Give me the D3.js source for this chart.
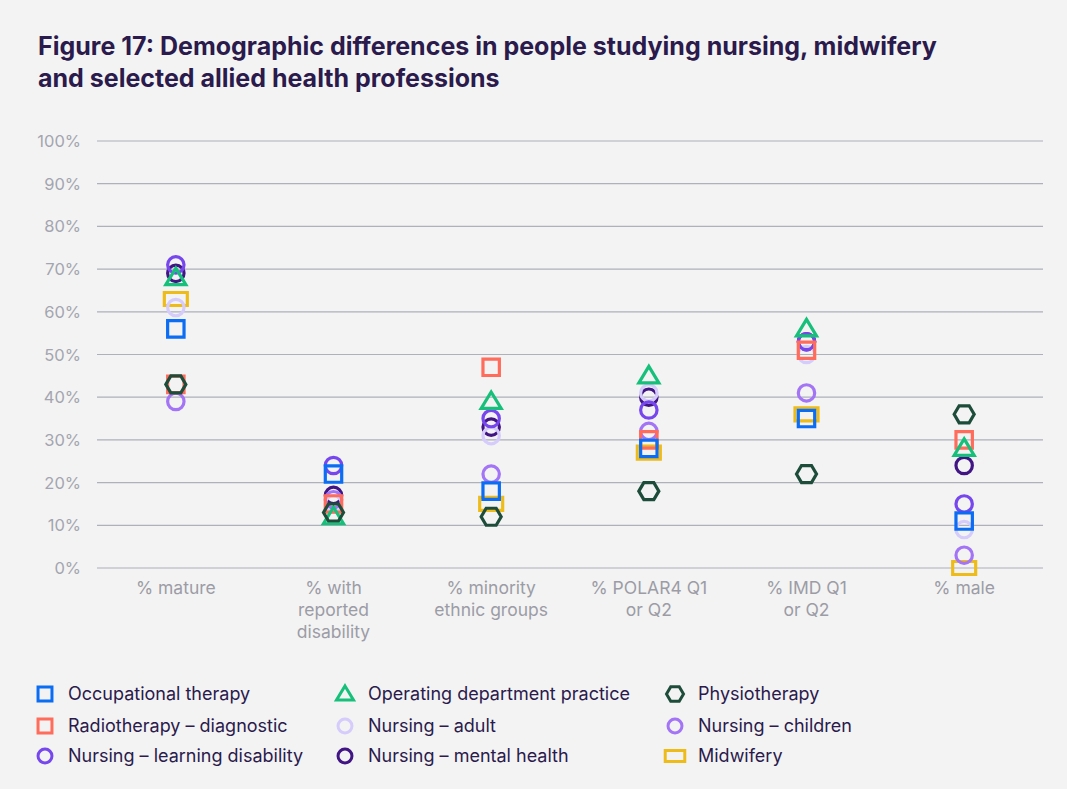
<!DOCTYPE html>
<html>
<head>
<meta charset="utf-8">
<script src="https://cdn.jsdelivr.net/npm/d3@7"></script>
<style>
  body { margin: 0; background: #f3f3f3; }
  svg { display: block; font-family: "Inter", "Noto Sans", sans-serif; }
</style>
</head>
<body>
<svg id="chart" width="1067" height="789"></svg>
<script>
// Chart data
const categories = ["mature", "disability", "minority", "polar4", "imd", "male"];
const categoryLabels = [
  ["% mature"],
  ["% with", "reported", "disability"],
  ["% minority", "ethnic groups"],
  ["% POLAR4 Q1", "or Q2"],
  ["% IMD Q1", "or Q2"],
  ["% male"]
];
const yTicks = [0, 10, 20, 30, 40, 50, 60, 70, 80, 90, 100];

const occupational = [56, 22, 18, 28, 35, 11];
const operating = [68, 12, 39, 45, 56, 28];
const physio = [43, 13, 12, 18, 22, 36];
const radiotherapy = [43, 15, 47, 30, 51, 30];
const nursingAdult = [61, 15, 31, 41, 50, 9];
const nursingChildren = [39, 16, 22, 32, 41, 3];
const nursingLD = [71, 24, 35, 37, 53, 15];
const nursingMH = [69, 17, 33, 40, 53, 24];
const midwifery = [63, null, 15, 27, 36, 0];

// Series (legend order), with shape + colour
const series = [
  { name: "Occupational therapy", values: occupational, shape: "square", color: "#0b6cf4" },
  { name: "Operating department practice", values: operating, shape: "triangle", color: "#16c07a" },
  { name: "Physiotherapy", values: physio, shape: "hexagon", color: "#1d4d3a" },
  { name: "Radiotherapy – diagnostic", values: radiotherapy, shape: "square", color: "#ff6c5c" },
  { name: "Nursing – adult", values: nursingAdult, shape: "circle", color: "#d6ccfb" },
  { name: "Nursing – children", values: nursingChildren, shape: "circle", color: "#a374f5" },
  { name: "Nursing – learning disability", values: nursingLD, shape: "circle", color: "#7747ee" },
  { name: "Nursing – mental health", values: nursingMH, shape: "circle", color: "#421584" },
  { name: "Midwifery", values: midwifery, shape: "rect", color: "#eebc1a" }
];
// which series sit on top of which (bottom first)
const drawOrder = ["Midwifery", "Nursing – mental health", "Nursing – adult", "Nursing – learning disability",
  "Nursing – children", "Radiotherapy – diagnostic", "Occupational therapy", "Operating department practice", "Physiotherapy"];

const svg = d3.select("#chart");
const titleColor = "#2b1a4c";

// Title
svg.append("text")
  .attr("x", 38).attr("y", 55)
  .attr("font-size", 25).attr("font-weight", 700).attr("fill", titleColor)
  .text("Figure 17: Demographic differences in people studying nursing, midwifery");
svg.append("text")
  .attr("x", 38).attr("y", 87)
  .attr("font-size", 25).attr("font-weight", 700).attr("fill", titleColor)
  .text("and selected allied health professions");

// Scales
const x = d3.scaleBand().domain(categories).range([97, 1043]);
const y = d3.scaleLinear().domain([0, 100]).range([568, 141]);

// Gridlines + y labels
const grid = svg.append("g");
grid.selectAll("line")
  .data(yTicks)
  .enter()
  .append("line")
  .attr("x1", 97).attr("x2", 1043)
  .attr("y1", d => y(d)).attr("y2", d => y(d))
  .attr("stroke", "#aeb0bc").attr("stroke-width", 1.2);

grid.selectAll("text")
  .data(yTicks)
  .enter()
  .append("text")
  .attr("x", 81)
  .attr("y", d => y(d) + 6)
  .attr("text-anchor", "end")
  .attr("font-size", 16.5)
  .attr("fill", "#a4a5b0")
  .text(d => d + "%");

// X labels
const xLab = svg.append("g");
categories.forEach((c, i) => {
  const t = xLab.append("text")
    .attr("x", x(c) + x.bandwidth() / 2)
    .attr("y", 594)
    .attr("text-anchor", "middle")
    .attr("font-size", 17.5)
    .attr("fill", "#9c9ca6");
  categoryLabels[i].forEach((line, j) => {
    t.append("tspan")
      .attr("x", x(c) + x.bandwidth() / 2)
      .attr("dy", j === 0 ? 0 : 22)
      .text(line);
  });
});

// Marker shape paths centred on 0,0
function shapePath(shape, s) {
  if (shape === "square") {
    const h = 8.2 * s;
    return `M${-h},${-h}H${h}V${h}H${-h}Z`;
  }
  if (shape === "rect") {
    const w = 11.5 * s, h = 6.5 * s;
    return `M${-w},${-h}H${w}V${h}H${-w}Z`;
  }
  if (shape === "triangle") {
    const w = 10 * s;
    return `M0,${-9.5 * s}L${w},${7 * s}L${-w},${7 * s}Z`;
  }
  if (shape === "hexagon") {
    const w = 10 * s, h = 8.5 * s;
    return `M${-w},0L${-w / 2},${-h}L${w / 2},${-h}L${w},0L${w / 2},${h}L${-w / 2},${h}Z`;
  }
  const r = 8.2 * s;
  return `M${r},0A${r},${r} 0 1,1 ${-r},0A${r},${r} 0 1,1 ${r},0Z`;
}

// Points
const points = svg.append("g");
drawOrder.forEach(name => {
  const sr = series.find(d => d.name === name);
  const pts = sr.values.map((v, i) => ({ cat: categories[i], v })).filter(d => d.v !== null);
  points.append("g")
    .selectAll("path")
    .data(pts)
    .enter()
    .append("path")
    .attr("transform", d => `translate(${x(d.cat) + x.bandwidth() / 2}, ${y(d.v)})`)
    .attr("d", shapePath(sr.shape, 1))
    .attr("fill", "none")
    .attr("stroke", sr.color)
    .attr("stroke-width", 3.2)
    .attr("stroke-linejoin", "miter");
});

// Legend
const legendCols = [45, 345, 675];
const legendRows = [694, 726, 756];
const legend = svg.append("g");
series.forEach((sr, i) => {
  const lx = legendCols[i % 3], ly = legendRows[Math.floor(i / 3)];
  legend.append("path")
    .attr("transform", `translate(${lx}, ${ly})`)
    .attr("d", shapePath(sr.shape, 0.85))
    .attr("fill", "none")
    .attr("stroke", sr.color)
    .attr("stroke-width", 3);
  legend.append("text")
    .attr("x", lx + 23)
    .attr("y", ly + 6)
    .attr("font-size", 18)
    .attr("fill", titleColor)
    .text(sr.name);
});
</script>
</body>
</html>
